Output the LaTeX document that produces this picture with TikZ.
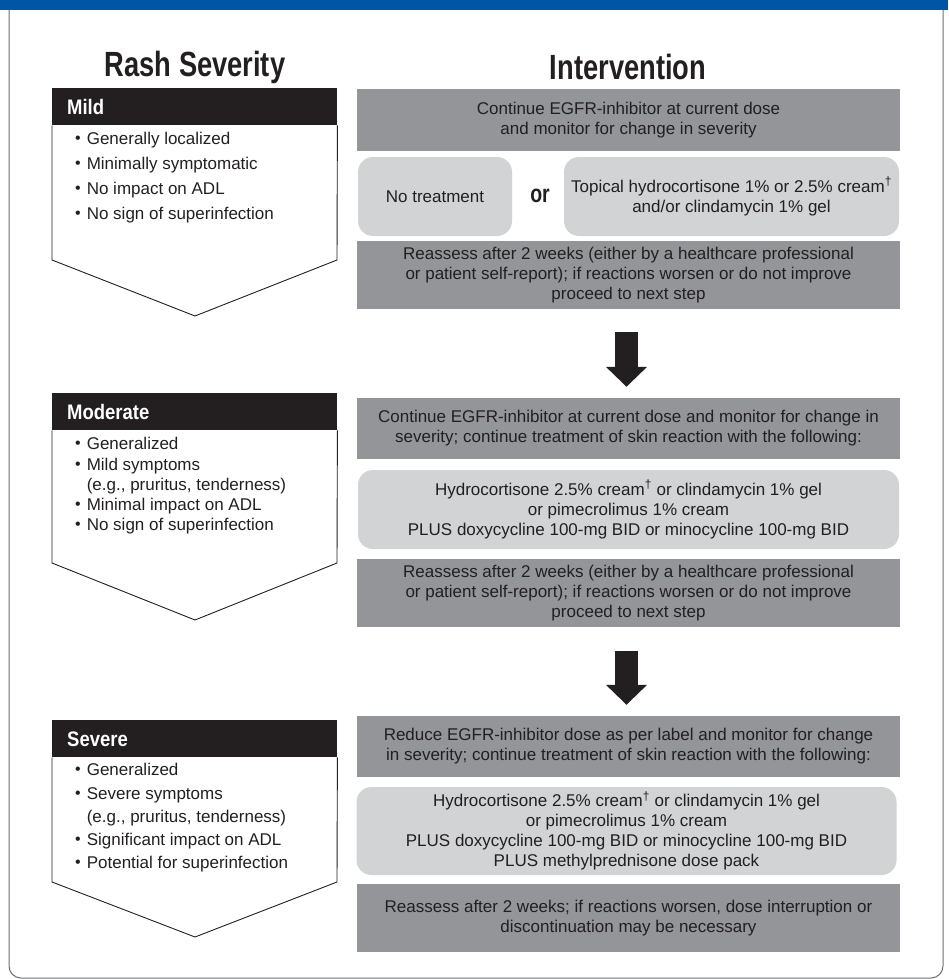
\documentclass[tikz,border=0pt]{standalone}
\usepackage{fontspec}
\setmainfont{Liberation Sans}
\newfontfamily\condfont{Liberation Sans}[FakeStretch=0.78]
\newfontfamily\hdfont{Liberation Sans}[FakeStretch=0.88]
\usetikzlibrary{arrows.meta}
\definecolor{bluebar}{HTML}{0055A4}
\definecolor{boxdark}{HTML}{939598}
\definecolor{boxlight}{HTML}{D1D3D4}
\definecolor{ink}{HTML}{231F20}
\definecolor{framec}{HTML}{6D6E71}
\newcommand{\bdot}{\raisebox{0.6pt}{\fontsize{16}{16}\selectfont\textbullet}\hspace{6pt}}
\newcommand{\bskip}{\phantom{\bdot}}
\tikzset{
  body/.style={font=\fontsize{17}{20}\selectfont, text=ink, inner sep=0pt},
  darkbox/.style={body, fill=boxdark, minimum width=543pt, align=center},
  lightbox/.style={body, fill=boxlight, rounded corners=15pt, align=center},
  hdrbox/.style={fill=ink, minimum width=285pt, minimum height=37pt, inner sep=0pt, anchor=north west},
  hdrtext/.style={font=\hdfont\bfseries\fontsize{21}{21}\selectfont, text=white, inner sep=0pt, anchor=west},
  bul/.style={font=\fontsize{17}{20}\selectfont, text=ink, inner sep=0pt, anchor=base west},
  chevron/.style={draw=ink, line width=0.9pt},
  bigarrow/.style={draw=ink, line width=23pt, -{Triangle[width=40pt,length=20pt]}},
  title/.style={font=\condfont\bfseries\fontsize{35}{35}\selectfont, text=ink, inner sep=0pt},
  ortext/.style={font=\condfont\bfseries\fontsize{25}{25}\selectfont, text=ink, inner sep=0pt}
}
\begin{document}
\begin{tikzpicture}[x=1pt,y=-1pt]
\useasboundingbox (0,0) rectangle (948,979);
\fill[bluebar] (0,0) rectangle (948,10);
\draw[framec, line width=1pt, rounded corners=12pt] (9,10) -- (9,978) -- (943,978) -- (943,10);

% titles
\node[title] (t1) at (195,67) {Rash Severity};
\node[title] (t2) at (628,67) {Intervention};

% ---------- left column ----------
% Mild
\node[hdrbox] (h1) at (52,88) {};
\node[hdrtext] (h1t) at (67,107) {Mild};
\draw[chevron] (h1.south west) -- (52,260) -- (195,316) -- (337,260) -- (h1.south east);
\node[bul] (m1a) at (75,144) {\bdot Generally localized};
\node[bul] (m1b) at (75,169) {\bdot Minimally symptomatic};
\node[bul] (m1c) at (75,194) {\bdot No impact on ADL};
\node[bul] (m1d) at (75,219) {\bdot No sign of superinfection};

% Moderate
\node[hdrbox] (h2) at (52,393) {};
\node[hdrtext] (h2t) at (67,412) {Moderate};
\draw[chevron] (h2.south west) -- (52,563) -- (195,620) -- (337,563) -- (h2.south east);
\node[bul] (m2a) at (75,449) {\bdot Generalized};
\node[bul] (m2b) at (75,470) {\bdot Mild symptoms};
\node[bul] (m2c) at (75,490) {\bskip(e.g., pruritus, tenderness)};
\node[bul] (m2d) at (75,510) {\bdot Minimal impact on ADL};
\node[bul] (m2e) at (75,530) {\bdot No sign of superinfection};

% Severe
\node[hdrbox] (h3) at (52,720) {};
\node[hdrtext] (h3t) at (67,739) {Severe};
\draw[chevron] (h3.south west) -- (52,882) -- (195,937) -- (337,882) -- (h3.south east);
\node[bul] (m3a) at (75,775) {\bdot Generalized};
\node[bul] (m3b) at (75,799) {\bdot Severe symptoms};
\node[bul] (m3c) at (75,822) {\bskip(e.g., pruritus, tenderness)};
\node[bul] (m3d) at (75,845) {\bdot Significant impact on ADL};
\node[bul] (m3e) at (75,868) {\bdot Potential for superinfection};

% ---------- right column ----------
% Mild
\node[darkbox, minimum height=62pt] (b1) at (628.5,120) {Continue EGFR-inhibitor at current dose\\and monitor for change in severity};
\node[lightbox, minimum width=154pt, minimum height=79pt] (n1) at (435,196.5) {No treatment};
\node[ortext] (or1) at (540,196) {or};
\node[lightbox, minimum width=335pt, minimum height=79pt] (tp1) at (731.5,196.5) {Topical hydrocortisone 1\% or 2.5\% cream\textsuperscript{†}\\and/or clindamycin 1\% gel};
\node[darkbox, minimum height=68pt] (r1) at (628.5,275) {Reassess after 2 weeks (either by a healthcare professional\\or patient self-report); if reactions worsen or do not improve\\proceed to next step};

% Moderate
\node[darkbox, minimum height=61pt] (b2) at (628.5,428.5) {Continue EGFR-inhibitor at current dose and monitor for change in\\severity; continue treatment of skin reaction with the following:};
\node[lightbox, minimum width=541pt, minimum height=79pt] (l2) at (628.5,509.5) {Hydrocortisone 2.5\% cream\textsuperscript{†} or clindamycin 1\% gel\\or pimecrolimus 1\% cream\\PLUS doxycycline 100-mg BID or minocycline 100-mg BID};
\node[darkbox, minimum height=68pt] (r2) at (628.5,593) {Reassess after 2 weeks (either by a healthcare professional\\or patient self-report); if reactions worsen or do not improve\\proceed to next step};

% Severe
\node[darkbox, minimum height=61pt] (b3) at (628.5,746.5) {Reduce EGFR-inhibitor dose as per label and monitor for change\\in severity; continue treatment of skin reaction with the following:};
\node[lightbox, minimum width=540pt, minimum height=88pt] (l3) at (626.5,831) {Hydrocortisone 2.5\% cream\textsuperscript{†} or clindamycin 1\% gel\\or pimecrolimus 1\% cream\\PLUS doxycycline 100-mg BID or minocycline 100-mg BID\\PLUS methylprednisone dose pack};
\node[darkbox, minimum height=68pt] (r3) at (628.5,918) {Reassess after 2 weeks; if reactions worsen, dose interruption or\\discontinuation may be necessary};

% arrows
\draw[bigarrow] ([xshift=-2pt,yshift=-23pt]r1.south) -- ([xshift=-2pt,yshift=11pt]b2.north);
\draw[bigarrow] ([xshift=-2pt,yshift=-24pt]r2.south) -- ([xshift=-2pt,yshift=11pt]b3.north);
\end{tikzpicture}
\end{document}
